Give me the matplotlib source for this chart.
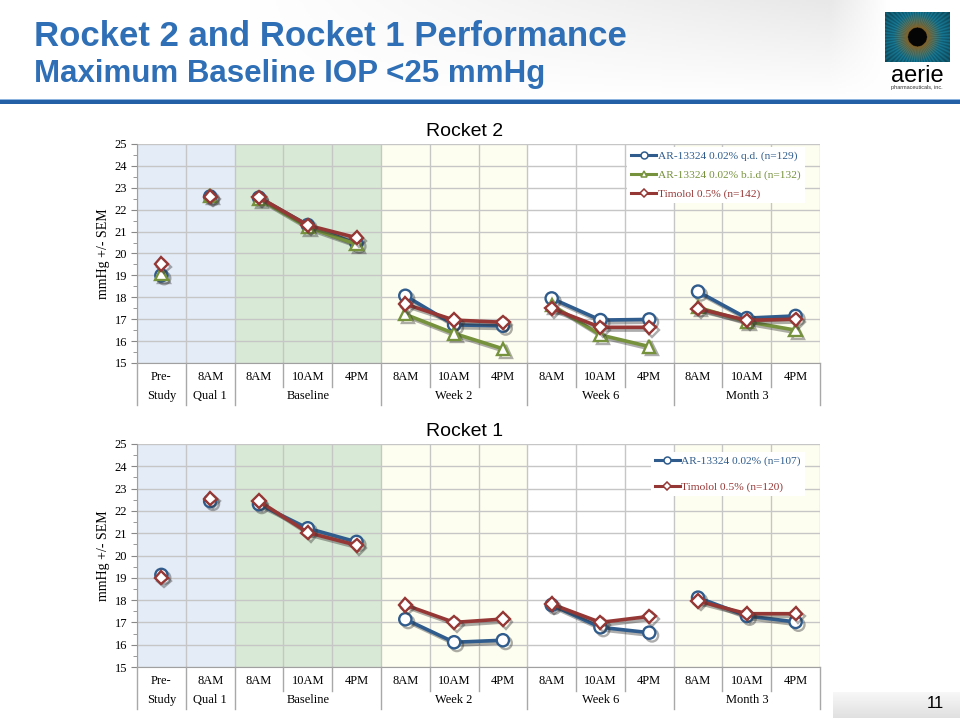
import numpy as np
import matplotlib
matplotlib.use("Agg")
import matplotlib.pyplot as plt
import matplotlib.transforms as mtransforms
import matplotlib.patheffects as pe
from matplotlib.patches import Rectangle
from matplotlib.lines import Line2D

# ---------------- data ----------------
categories = ["Pre-", "8AM", "8AM", "10AM", "4PM", "8AM", "10AM", "4PM",
              "8AM", "10AM", "4PM", "8AM", "10AM", "4PM"]
group_names = ["Study", "Qual 1", "Baseline", "Week 2", "Week 6", "Month 3"]
group_start = [0, 1, 2, 5, 8, 11]
group_end = [0, 1, 4, 7, 10, 13]

r2_qd = [19.0, 22.6, 22.55, 21.3, 20.45, 18.07, 16.74, 16.7, 17.95, 16.96, 16.99, 18.26, 17.05, 17.15]
r2_bid = [19.05, 22.65, 22.5, 21.2, 20.42, 17.22, 16.35, 15.65, 17.65, 16.28, 15.75, 17.54, 16.89, 16.5]
r2_tim = [19.52, 22.6, 22.57, 21.29, 20.72, 17.69, 16.96, 16.86, 17.49, 16.63, 16.63, 17.48, 16.95, 17.0]

r1_ar = [19.13, 22.44, 22.30, 21.22, 20.61, 17.14, 16.11, 16.2, 17.78, 16.78, 16.54, 18.11, 17.29, 17.02]
r1_tim = [19.0, 22.55, 22.44, 21.03, 20.46, 17.78, 17.0, 17.15, 17.82, 17.0, 17.27, 17.96, 17.39, 17.39]

r2_labels = ["AR-13324 0.02% q.d. (n=129)", "AR-13324 0.02% b.i.d (n=132)", "Timolol 0.5% (n=142)"]
r1_labels = ["AR-13324 0.02% (n=107)", "Timolol 0.5% (n=120)"]

BLUE = "#2F5C8C"
GREEN = "#76923C"
RED = "#953735"
TITLE_BLUE = "#2F6FB6"
SERIF = ["Liberation Serif", "DejaVu Serif"]
SANS = ["Liberation Sans", "DejaVu Sans"]

W, H = 960, 720
fig = plt.figure(figsize=(W / 100, H / 100), dpi=100)
fig.patch.set_facecolor("white")


def px_axes(x0, y0, x1, y1, **kw):
    return fig.add_axes([x0 / W, 1 - y1 / H, (x1 - x0) / W, (y1 - y0) / H], **kw)


# ---------------- header background ----------------
bg = px_axes(0, 0, W, 100)
xs = np.linspace(0, W, 480)
ys = np.linspace(0, 100, 50)
fx = np.clip((xs - 250) / 580, 0, 1) * np.clip((890 - xs) / 60, 0, 1)
gy = 1 - ys / 100
img = 1 - 0.09 * np.outer(gy, fx)
bg.imshow(np.dstack([img, img, img]), extent=[0, W, 100, 0], aspect="auto")
bg.set_xlim(0, W)
bg.set_ylim(100, 0)
bg.axis("off")

fig.text(34 / W, 1 - 36 / H, "Rocket 2 and Rocket 1 Performance", family=SANS,
         weight="bold", size=25, color=TITLE_BLUE, va="center", ha="left")
fig.text(34 / W, 1 - 74 / H, "Maximum Baseline IOP <25 mmHg", family=SANS,
         weight="bold", size=22.5, color=TITLE_BLUE, va="center", ha="left")

# header rule
fig.patches.append(Rectangle((0, 1 - 104 / H), 1, 4 / H, transform=fig.transFigure,
                             facecolor="#2360A6", edgecolor="none"))
fig.patches.append(Rectangle((0, 1 - 100 / H), 1, 1 / H, transform=fig.transFigure,
                             facecolor="#8DB4DE", edgecolor="none"))

# ---------------- logo ----------------
lg = px_axes(885, 12, 950, 62)
yy, xx = np.mgrid[-1:1:120j, -1.3:1.3:156j]
rr = np.sqrt(xx ** 2 + yy ** 2)
ang = np.arctan2(yy, xx)
rays = 0.85 + 0.15 * np.sin(ang * 60)
teal = np.array([0.10, 0.55, 0.68])
brown = np.array([0.60, 0.45, 0.18])
t = np.clip((rr - 0.38) / 0.6, 0, 1)[..., None]
col = (brown * (1 - t) + teal * t) * rays[..., None]
col = col * np.clip(1.25 - 0.35 * rr, 0.5, 1)[..., None]
col[rr < 0.38] = 0.02
lg.imshow(np.clip(col, 0, 1), extent=[0, 1, 0, 1], aspect="auto")
lg.axis("off")
fig.text(917 / W, 1 - 76 / H, "aerie", family=SANS, size=17, ha="center", va="center", color="black")
fig.text(917 / W, 1 - 88 / H, "pharmaceuticals, inc.", family=SANS, size=4, ha="center", va="center", color="#333333")

# ---------------- footer ----------------
fax = px_axes(833, 692, 960, 718)
grad = np.linspace(0.97, 0.88, 20)[:, None] * np.ones((1, 10))
fax.imshow(np.dstack([grad, grad, grad]), extent=[0, 1, 0, 1], aspect="auto")
fax.axis("off")
fig.text(935 / W, 1 - 704 / H, "11", family=SANS, size=12, ha="center", va="center", color="black")

# ---------------- chart helper ----------------
band_spans = [(-0.5, 1.5, "#E4ECF7"), (1.5, 4.5, "#D8EAD5"), (4.5, 7.5, "#FEFEF0"),
              (7.5, 10.5, "#FFFFFF"), (10.5, 13.5, "#FEFEF0")]

shadow = [pe.SimpleLineShadow(offset=(2.0, -2.0), alpha=0.4, shadow_color="#333333"), pe.Normal()]


def draw_chart(x0, y0, x1, y1, title, series, labels, colors, markers, leg_anchor, leg_spacing):
    ax = px_axes(x0, y0, x1, y1)
    x = np.arange(len(categories))
    for a, b, c in band_spans:
        ax.axvspan(a, b, color=c, zorder=0, lw=0)
    for v in range(15, 26):
        ax.axhline(v, color="#C6C6C6", lw=1, zorder=1)
    for b in np.arange(-0.5, 14, 1):
        ax.axvline(b, color="#C6C6C6", lw=1, zorder=1)

    for vals, c, m, lab in zip(series, colors, markers, labels):
        vals = np.asarray(vals, dtype=float)
        for gs, ge in zip(group_start, group_end):
            ax.plot(x[gs:ge + 1], vals[gs:ge + 1], color=c, lw=2.6, marker=m,
                    ms=8.8 if m != "D" else 6.8, mfc="white", mec=c, mew=1.7,
                    zorder=3, path_effects=shadow, solid_capstyle="round")

    ax.set_xlim(-0.5, 13.5)
    ax.set_ylim(15, 25)
    ax.set_yticks(range(15, 26))
    ax.set_yticks(np.arange(15.5, 25, 1), minor=True)
    ax.set_xticks([])
    ax.tick_params(axis="y", which="major", direction="out", length=4, color="#888888",
                   labelsize=9, pad=3)
    ax.tick_params(axis="y", which="minor", direction="out", length=3, color="#888888")
    for lab in ax.get_yticklabels():
        lab.set_family(SERIF)
    for s in ["top", "right"]:
        ax.spines[s].set_visible(False)
    ax.spines["left"].set_color("#A0A0A0")
    ax.spines["bottom"].set_color("#A0A0A0")
    ax.set_ylabel("mmHg +/- SEM", family=SERIF, size=10, labelpad=3)

    # two-level category axis
    tr = mtransforms.blended_transform_factory(ax.transData, fig.transFigure)
    yb = 1 - y1 / H
    for i, c in enumerate(categories):
        fig.text(i, 1 - (y1 + 14) / H, c, transform=tr, ha="center", va="center",
                 family=SERIF, size=9)
    for name, gs, ge in zip(group_names, group_start, group_end):
        fig.text((gs + ge) / 2, 1 - (y1 + 33) / H, name, transform=tr, ha="center",
                 va="center", family=SERIF, size=9)
    group_bounds = set([gs - 0.5 for gs in group_start] + [13.5])
    for b in np.arange(-0.5, 14, 1):
        end = y1 + (42 if b in group_bounds else 24)
        fig.lines.append(Line2D([b, b], [yb, 1 - end / H], transform=tr, color="#A8A8A8", lw=1))

    fig.text(465 / W, 1 - (y0 - 13) / H, title, family=SANS, size=14,
             ha="center", va="center")

    handles = [Line2D([], [], color=c, lw=2.2, marker=m, ms=5 if m != "D" else 4, mfc="white",
                      mec=c, mew=1.1) for c, m in zip(colors, markers)]
    leg = ax.legend(handles, labels, loc="upper left", bbox_to_anchor=leg_anchor,
                    frameon=True, facecolor="white", edgecolor="none", framealpha=1,
                    fancybox=False, prop={"family": SERIF, "size": 8.2}, handlelength=2.2,
                    handletextpad=0.15, labelspacing=leg_spacing, borderpad=0.35,
                    borderaxespad=0)
    for txt, c in zip(leg.get_texts(), colors):
        txt.set_color(c)
    leg.set_zorder(5)
    return ax


draw_chart(137, 144, 820, 363, "Rocket 2", [r2_qd, r2_bid, r2_tim], r2_labels,
           [BLUE, GREEN, RED], ["o", "^", "D"], (0.718, 0.985), 0.75)
draw_chart(137, 444, 820, 667, "Rocket 1", [r1_ar, r1_tim], r1_labels,
           [BLUE, RED], ["o", "D"], (0.752, 0.965), 1.4)

fig.savefig("out.png", dpi=100)
